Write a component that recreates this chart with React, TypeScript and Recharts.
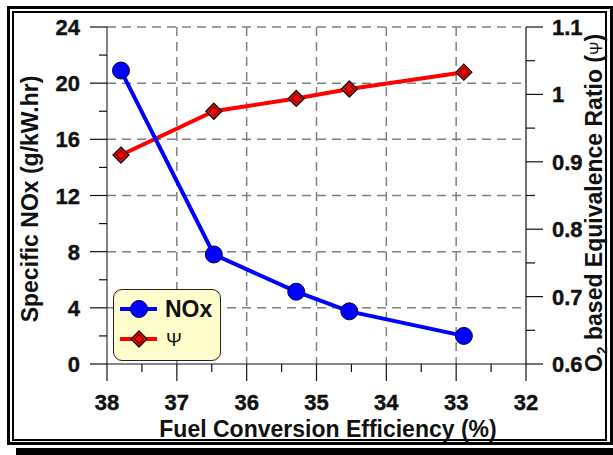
import React from 'react'
import { LineChart, Line, XAxis, YAxis, CartesianGrid, Legend } from 'recharts'

// fuel conversion efficiency (%), shared by both series
const efficiency = [37.8, 36.47, 35.29, 34.53, 32.89]
const noxValues = [20.9, 7.8, 5.15, 3.75, 2.0]
const psiValues = [0.91, 0.975, 0.994, 1.008, 1.033]

const xTicks = [38, 37.5, 37, 36.5, 36, 35.5, 35, 34.5, 34, 33.5, 33, 32.5, 32]
const xMajor = [38, 37, 36, 35, 34, 33, 32]
const leftTicks = [0, 2, 4, 6, 8, 10, 12, 14, 16, 18, 20, 22, 24]
const leftMajor = [0, 4, 8, 12, 16, 20, 24]
const rightTicks = [0.6, 0.65, 0.7, 0.75, 0.8, 0.85, 0.9, 0.95, 1.0, 1.05, 1.1]
const rightMajor = [0.6, 0.7, 0.8, 0.9, 1.0, 1.1]

const data = efficiency.map((eff, i) => ({ eff, nox: noxValues[i], psi: psiValues[i] }))

const FONT = '"Liberation Sans", Arial, sans-serif'
const isMajor = (list: number[], v: number) => list.some(m => Math.abs(m - v) < 1e-6)
const tickText = { fontFamily: FONT, fontWeight: 700, fontSize: 22, fill: '#111', stroke: '#111', strokeWidth: 0.4 }

function BottomTick({ x, y, payload }: any) {
  const major = isMajor(xMajor, payload.value)
  return (
    <g>
      <line x1={x} x2={x} y1={y} y2={y + (major ? 17 : 8)} stroke="#111" strokeWidth={1.2} />
      {major && (
        <text x={x} y={y + 46} textAnchor="middle" style={tickText}>
          {payload.value}
        </text>
      )}
    </g>
  )
}

function LeftTick({ x, y, payload }: any) {
  const major = isMajor(leftMajor, payload.value)
  return (
    <g>
      <line x1={x - (major ? 17 : 8)} x2={x} y1={y} y2={y} stroke="#111" strokeWidth={1.2} />
      {major && (
        <text x={x - 27} y={y + 8} textAnchor="end" style={tickText}>
          {payload.value}
        </text>
      )}
    </g>
  )
}

function RightTick({ x, y, payload }: any) {
  const major = isMajor(rightMajor, payload.value)
  const v = payload.value
  const label = Math.abs(v - 1) < 1e-6 ? '1' : v.toFixed(1)
  return (
    <g>
      <line x1={x} x2={x + (major ? 17 : 9)} y1={y} y2={y} stroke="#111" strokeWidth={1.2} />
      {major && (
        <text x={x + 26} y={y + 8} textAnchor="start" style={tickText}>
          {label}
        </text>
      )}
    </g>
  )
}

function CircleDot({ cx, cy, index }: any) {
  return <circle key={'c' + index} cx={cx} cy={cy} r={8.5} fill="#0000ff" stroke="#000044" strokeWidth={1} />
}

function DiamondDot({ cx, cy, index }: any) {
  const d = (s: number) => `${cx},${cy - s} ${cx + s},${cy} ${cx},${cy + s} ${cx - s},${cy}`
  return (
    <g key={'d' + index}>
      <polygon points={d(8)} fill="#ff0000" stroke="#111" strokeWidth={1.3} />
      <polygon points={d(4.5)} fill="#ff0000" stroke="#111" strokeWidth={1} />
    </g>
  )
}

function LegendBox() {
  return (
    <div
      style={{
        width: 108, height: 72, boxSizing: 'border-box', border: '1.5px solid #222', borderRadius: 9,
        background: '#fefdcb', position: 'relative', fontFamily: FONT,
      }}
    >
      <svg width={108} height={72} style={{ position: 'absolute', left: -1.5, top: -1.5 }}>
        <line x1={7} x2={44} y1={20} y2={20} stroke="#0000ff" strokeWidth={4} />
        <circle cx={26} cy={20} r={8.5} fill="#0000ff" stroke="#000044" strokeWidth={1} />
        <text x={52} y={28} fontFamily={FONT} fontWeight="bold" fontSize={23} fill="#111">NOx</text>
        <line x1={7} x2={44} y1={50} y2={50} stroke="#ff0000" strokeWidth={4} />
        <polygon points="26,42 34,50 26,58 18,50" fill="#ff0000" stroke="#111" strokeWidth={1.3} />
        <polygon points="26,45.5 30.5,50 26,54.5 21.5,50" fill="#ff0000" stroke="#111" strokeWidth={1} />
        <text x={53} y={57} fontFamily={FONT} fontSize={19} fill="#111">Ψ</text>
      </svg>
    </div>
  )
}

export default function App() {
  return (
    <div style={{ position: 'absolute', left: 0, top: 0, width: 613, height: 455, background: '#fff', overflow: 'hidden' }}>
      <div style={{ position: 'absolute', left: 7, top: 6, width: 606, height: 439, border: '3px solid #000', boxSizing: 'border-box' }} />
      <div style={{ position: 'absolute', left: 12, top: 11, width: 595, height: 430, border: '2px solid #000', boxSizing: 'border-box' }} />
      <div style={{ position: 'absolute', left: 16, top: 448, width: 597, height: 7, background: '#000' }} />

      <div style={{ position: 'absolute', left: 0, top: 0 }}>
        <LineChart width={613} height={455} data={data} margin={{ top: 27, right: 27, bottom: 51, left: 47 }}>
          <CartesianGrid
            yAxisId="l"
            horizontalValues={[4, 8, 12, 16, 20, 24]}
            verticalValues={[37, 36, 35, 34, 33]}
            stroke="#808080"
            strokeWidth={1.5}
            strokeDasharray="9 6"
          />
          <XAxis
            dataKey="eff"
            type="number"
            domain={[32, 38]}
            reversed
            ticks={xTicks}
            interval={0}
            height={40}
            tickSize={0}
            tickMargin={0}
            tickLine={false}
            axisLine={{ stroke: '#111', strokeWidth: 1.2 }}
            tick={<BottomTick />}
          />
          <YAxis
            yAxisId="l"
            domain={[0, 24]}
            ticks={leftTicks}
            interval={0}
            width={60}
            tickSize={0}
            tickMargin={0}
            tickLine={false}
            axisLine={{ stroke: '#333', strokeWidth: 1.2 }}
            tick={<LeftTick />}
          />
          <YAxis
            yAxisId="r"
            orientation="right"
            domain={[0.6, 1.1]}
            ticks={rightTicks}
            interval={0}
            width={60}
            tickSize={0}
            tickMargin={0}
            tickLine={false}
            axisLine={{ stroke: '#111', strokeWidth: 1.2 }}
            tick={<RightTick />}
          />
          <Line
            yAxisId="r"
            type="linear"
            dataKey="psi"
            stroke="#ff0000"
            strokeWidth={4}
            dot={<DiamondDot />}
            activeDot={false}
            isAnimationActive={false}
          />
          <Line
            yAxisId="l"
            type="linear"
            dataKey="nox"
            stroke="#0000ff"
            strokeWidth={4}
            dot={<CircleDot />}
            activeDot={false}
            isAnimationActive={false}
          />
          <Legend
            layout="vertical"
            align="center"
            verticalAlign="middle"
            content={() => <LegendBox />}
            wrapperStyle={{ left: 113, top: 289, width: 108, height: 72 }}
          />
        </LineChart>
      </div>

      <div
        style={{
          position: 'absolute', left: 30 - 170, top: 199 - 14, width: 340, height: 28, lineHeight: '28px',
          textAlign: 'center', transform: 'rotate(-90deg)', fontFamily: FONT, fontWeight: 'bold', fontSize: 23, color: '#111',
          whiteSpace: 'nowrap',
        }}
      >
        Specific NOx (g/kW.hr)
      </div>
      <div
        style={{
          position: 'absolute', left: 594 - 200, top: 203 - 14, width: 400, height: 28, lineHeight: '28px',
          textAlign: 'center', transform: 'rotate(-90deg)', fontFamily: FONT, fontWeight: 'bold', fontSize: 23, color: '#111',
          whiteSpace: 'nowrap',
        }}
      >
        O<sub style={{ fontSize: 14, verticalAlign: '-5px' }}>2</sub> based Equivalence Ratio (<span style={{ fontWeight: 'normal', fontSize: 16 }}>Ψ</span>)
      </div>
      <div
        style={{
          position: 'absolute', left: 328 - 250, top: 429 - 15, width: 500, height: 30, lineHeight: '30px',
          textAlign: 'center', fontFamily: FONT, fontWeight: 'bold', fontSize: 23, color: '#111', whiteSpace: 'nowrap',
        }}
      >
        Fuel Conversion Efficiency (%)
      </div>
    </div>
  )
}
